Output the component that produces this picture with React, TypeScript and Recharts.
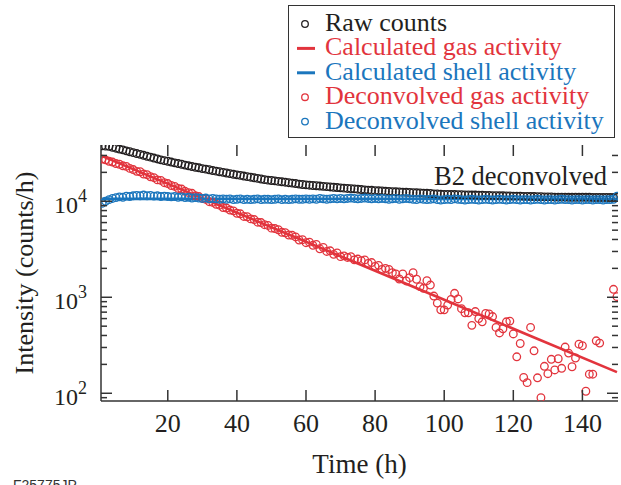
import { ComposedChart, Line, Scatter, XAxis, YAxis, Legend } from 'recharts';

const hours = [
  1, 2, 3, 4, 5, 6, 7, 8, 9, 10, 11, 12, 13, 14, 15, 16, 17, 18, 19, 20,
  21, 22, 23, 24, 25, 26, 27, 28, 29, 30, 31, 32, 33, 34, 35, 36, 37, 38, 39, 40,
  41, 42, 43, 44, 45, 46, 47, 48, 49, 50, 51, 52, 53, 54, 55, 56, 57, 58, 59, 60,
  61, 62, 63, 64, 65, 66, 67, 68, 69, 70, 71, 72, 73, 74, 75, 76, 77, 78, 79, 80,
  81, 82, 83, 84, 85, 86, 87, 88, 89, 90, 91, 92, 93, 94, 95, 96, 97, 98, 99, 100,
  101, 102, 103, 104, 105, 106, 107, 108, 109, 110, 111, 112, 113, 114, 115, 116, 117, 118, 119, 120,
  121, 122, 123, 124, 125, 126, 127, 128, 129, 130, 131, 132, 133, 134, 135, 136, 137, 138, 139, 140,
  141, 142, 143, 144, 145, 146, 147, 148, 149, 150,
];

const rawCounts = [
  37800, 37500, 37300, 36500, 35700, 35000, 34300, 33500, 32800, 32100,
  31400, 30800, 30100, 29400, 28800, 28200, 27600, 27000, 26500, 26100,
  25600, 25100, 24700, 24300, 23800, 23400, 23000, 22600, 22300, 21900,
  21600, 21300, 20900, 20600, 20300, 20000, 19700, 19400, 19100, 18850,
  18600, 18300, 18050, 17800, 17550, 17300, 17050, 16800, 16600, 16450,
  16300, 16100, 15950, 15800, 15600, 15450, 15300, 15100, 14950, 14800,
  14700, 14600, 14500, 14400, 14300, 14200, 14100, 14000, 13900, 13800,
  13700, 13600, 13550, 13450, 13350, 13250, 13150, 13050, 13000, 12900,
  12850, 12800, 12700, 12650, 12600, 12550, 12500, 12450, 12400, 12350,
  12300, 12250, 12200, 12150, 12100, 12050, 11950, 11900, 11850, 11800,
  11800, 11750, 11750, 11700, 11700, 11650, 11650, 11600, 11600, 11550,
  11550, 11500, 11500, 11450, 11450, 11400, 11400, 11350, 11350, 11300,
  11300, 11300, 11250, 11250, 11200, 11200, 11150, 11150, 11100, 11100,
  11100, 11050, 11050, 11050, 11050, 11000, 11000, 11000, 11000, 11000,
  11000, 11000, 10950, 10950, 10950, 10950, 10950, 10950, 10950, 10950,
];

// null = point below the visible range
const gasDeconvolved = [
  27500, 27000, 26100, 25600, 24700, 24300, 23400, 23100, 22000, 21400,
  20500, 20300, 19200, 18900, 18000, 17600, 16700, 16500, 15600, 15300,
  14600, 14300, 13600, 13400, 12700, 12300, 12100, 11400, 11200, 10700,
  10500, 9900, 9750, 9300, 9100, 8600, 8500, 8100, 7950, 7500,
  7400, 6950, 6900, 6550, 6450, 6050, 6000, 5700, 5600, 5250,
  5200, 5050, 4750, 4700, 4450, 4420, 4250, 3950, 3980, 3700,
  3750, 3480, 3550, 3200, 3300, 3000, 3050, 2800, 2900, 2650,
  2700, 2600, 2650, 2450, 2500, 2400, 2450, 2250, 2300, 2100,
  2150, 1950, 2000, 1950, 1800, 1750, 1550, 1750, 1480, 1600,
  1800, 1540, 1290, 1240, 1490, 1340, 1030, 870, 740, 740,
  830, 950, 1100, 960, 760, 690, 690, 510, 710, 600,
  555, 680, 670, 630, 485, 425, 470, 555, 565, 415,
  240, 330, 146, 129, 485, 277, 145, 90, 191, 160,
  226, 175, 229, 182, 303, 262, 189, 233, 325, 313,
  105, 158, 158, 352, 333, null, null, null, 1210, 1015,
];

const shellDeconvolved = [
  9500, 10000, 10400, 10700, 10900, 11100, 11000, 11300, 11200, 11400,
  11500, 11400, 11600, 11400, 11500, 11300, 11400, 11200, 11300, 11200,
  11100, 11200, 11000, 11100, 10900, 11000, 10800, 10900, 10800, 10700,
  10800, 10600, 10700, 10600, 10500, 10600, 10500, 10600, 10400, 10500,
  10600, 10400, 10500, 10400, 10500, 10600, 10400, 10500, 10500, 10400,
  10500, 10600, 10400, 10500, 10400, 10500, 10600, 10500, 10500, 10600,
  10500, 10600, 10500, 10700, 10600, 10500, 10600, 10700, 10600, 10700,
  10600, 10700, 10800, 10700, 10600, 10700, 10800, 10700, 10600, 10700,
  10600, 10700, 10600, 10500, 10600, 10700, 10500, 10600, 10700, 10600,
  10500, 10400, 10600, 10500, 10400, 10500, 10600, 10400, 10300, 10400,
  10500, 10400, 10600, 10500, 10400, 10300, 10400, 10500, 10400, 10300,
  10400, 10500, 10400, 10300, 10400, 10500, 10400, 10300, 10400, 10500,
  10400, 10300, 10400, 10400, 10300, 10400, 10500, 10400, 10300, 10400,
  10400, 10300, 10400, 10500, 10400, 10400, 10300, 10400, 10400, 10300,
  10400, 10400, 10300, 10400, 10400, 10300, 10400, 10400, 10500, 11300,
];

const fitHours = [1, 25, 50, 75, 100, 125, 150];
const gasCalculated = [29500, 12800, 5370, 2250, 942, 395, 166];
const shellCalculated = [10600, 10600, 10600, 10600, 10600, 10600, 10600];

const xTicks = [20, 40, 60, 80, 100, 120, 140];
const yMajorTicks = [100, 1000, 10000];
const yTicks = [
  90, 100, 200, 300, 400, 500, 600, 700, 800, 900,
  1000, 2000, 3000, 4000, 5000, 6000, 7000, 8000, 9000,
  10000, 20000, 30000,
];

const BLACK = '#231f20';
const RED = '#e2343d';
const BLUE = '#1b76bd';
const AXIS = '#333333';
const SERIF = '"Liberation Serif", "Times New Roman", serif';

const W = 621;
const H = 485;
const MARGIN = { top: 145, right: 3, bottom: 0, left: 0 };
const Y_AXIS_W = 101;
const X_AXIS_H = 84;
const PLOT_LEFT = MARGIN.left + Y_AXIS_W;
const PLOT_RIGHT = W - MARGIN.right;
const PLOT_TOP = MARGIN.top;
const PLOT_BOTTOM = H - MARGIN.bottom - X_AXIS_H;

const rawData = hours.map((t, i) => ({ t, v: rawCounts[i] }));
const gasData = hours.map((t, i) => ({ t, v: gasDeconvolved[i] })).filter((d) => d.v != null);
const shellData = hours.map((t, i) => ({ t, v: shellDeconvolved[i] }));
const fitData = fitHours.map((t, i) => ({ t, gas: gasCalculated[i], shell: shellCalculated[i] }));

const legendItems = [
  { label: 'Raw counts', color: BLACK, kind: 'circle' },
  { label: 'Calculated gas activity', color: RED, kind: 'line' },
  { label: 'Calculated shell activity', color: BLUE, kind: 'line' },
  { label: 'Deconvolved gas activity', color: RED, kind: 'circle' },
  { label: 'Deconvolved shell activity', color: BLUE, kind: 'circle' },
];

const ring = (color: string) => (props: any) => (
  <circle cx={props.cx} cy={props.cy} r={3.8} fill="none" stroke={color} strokeWidth={1.3} />
);

function TimeTick({ x, payload }: any) {
  return (
    <g>
      <line x1={x} x2={x} y1={PLOT_BOTTOM} y2={PLOT_BOTTOM - 11} stroke={AXIS} strokeWidth={1.5} />
      <line x1={x} x2={x} y1={PLOT_TOP} y2={PLOT_TOP + 11} stroke={AXIS} strokeWidth={1.5} />
      <text x={x} y={PLOT_BOTTOM + 31} textAnchor="middle" fontFamily={SERIF} fontSize={26} fill={BLACK}>
        {payload.value}
      </text>
    </g>
  );
}

function IntensityTick({ y, payload }: any) {
  const major = yMajorTicks.includes(payload.value);
  const len = major ? 11 : 6;
  return (
    <g>
      <line x1={PLOT_LEFT} x2={PLOT_LEFT + len} y1={y} y2={y} stroke={AXIS} strokeWidth={1.5} />
      <line x1={PLOT_RIGHT} x2={PLOT_RIGHT - len} y1={y} y2={y} stroke={AXIS} strokeWidth={1.5} />
      {major && (
        <text x={PLOT_LEFT - 14} y={y + 12} textAnchor="end" fontFamily={SERIF} fill={BLACK}>
          <tspan fontSize={24}>10</tspan>
          <tspan fontSize={18} dy={-11}>{Math.round(Math.log10(payload.value))}</tspan>
        </text>
      )}
    </g>
  );
}

function LegendBox() {
  return (
    <svg width={327} height={133} style={{ display: 'block' }}>
      <rect x={0.5} y={0.5} width={326} height={132} fill="#fff" stroke={AXIS} strokeWidth={1} />
      {legendItems.map((item, i) => {
        const base = 26 + 24.4 * i;
        const cy = base - 7;
        return (
          <g key={item.label}>
            {item.kind === 'circle' ? (
              <circle cx={17} cy={cy} r={3.3} fill="none" stroke={item.color} strokeWidth={1.3} />
            ) : (
              <line x1={9} x2={27} y1={cy} y2={cy} stroke={item.color} strokeWidth={3} />
            )}
            <text x={37} y={base} fontFamily={SERIF} fontSize={26} fill={item.color}>
              {item.label}
            </text>
          </g>
        );
      })}
    </svg>
  );
}

export default function App() {
  return (
    <div style={{ position: 'absolute', left: 0, top: 0, width: W, height: H, background: '#fff', overflow: 'hidden' }}>
      <ComposedChart width={W} height={H} margin={MARGIN}>
        <XAxis
          dataKey="t"
          type="number"
          domain={[0.67, 150.3]}
          allowDataOverflow
          ticks={xTicks}
          interval={0}
          height={X_AXIS_H}
          tickLine={false}
          axisLine={{ stroke: AXIS, strokeWidth: 1.5 }}
          tick={<TimeTick />}
          label={{
            content: ({ viewBox }: any) => (
              <text
                x={viewBox.x + viewBox.width / 2}
                y={viewBox.y + 72}
                textAnchor="middle"
                fontFamily={SERIF}
                fontSize={27}
                fill={BLACK}
              >
                Time (h)
              </text>
            ),
          }}
        />
        <XAxis
          xAxisId="top"
          orientation="top"
          type="number"
          domain={[0.67, 150.3]}
          height={0}
          tick={false}
          tickLine={false}
          axisLine={{ stroke: AXIS, strokeWidth: 1.5 }}
        />
        <YAxis
          scale="log"
          type="number"
          domain={[83.1, 38550]}
          allowDataOverflow
          ticks={yTicks}
          interval={0}
          width={Y_AXIS_W}
          tickLine={false}
          axisLine={{ stroke: AXIS, strokeWidth: 1.5 }}
          tick={<IntensityTick />}
          label={{
            content: ({ viewBox }: any) => {
              const cx = viewBox.x + 33;
              const cy = viewBox.y + viewBox.height / 2;
              return (
                <text
                  x={cx}
                  y={cy}
                  transform={`rotate(-90, ${cx}, ${cy})`}
                  textAnchor="middle"
                  fontFamily={SERIF}
                  fontSize={26}
                  fill={BLACK}
                >
                  Intensity (counts/h)
                </text>
              );
            },
          }}
        />
        <YAxis
          yAxisId="right"
          orientation="right"
          type="number"
          domain={[0, 1]}
          width={0}
          tick={false}
          tickLine={false}
          axisLine={{ stroke: AXIS, strokeWidth: 1.5 }}
        />
        <Legend
          layout="vertical"
          align="center"
          verticalAlign="middle"
          content={() => <LegendBox />}
          wrapperStyle={{ position: 'absolute', left: 288, top: 5, width: 327, height: 133, margin: 0, padding: 0 }}
        />
        <Scatter name="Raw counts" data={rawData} dataKey="v" shape={ring(BLACK)} isAnimationActive={false} />
        <Line
          name="Calculated gas activity"
          data={fitData}
          dataKey="gas"
          stroke={RED}
          strokeWidth={2.6}
          dot={false}
          isAnimationActive={false}
        />
        <Line
          name="Calculated shell activity"
          data={fitData}
          dataKey="shell"
          stroke={BLUE}
          strokeWidth={2.6}
          dot={false}
          isAnimationActive={false}
        />
        <Scatter name="Deconvolved gas activity" data={gasData} dataKey="v" shape={ring(RED)} isAnimationActive={false} />
        <Scatter name="Deconvolved shell activity" data={shellData} dataKey="v" shape={ring(BLUE)} isAnimationActive={false} />
      </ComposedChart>
      <svg width={W} height={H} style={{ position: 'absolute', left: 0, top: 0, pointerEvents: 'none' }}>
        <text x={607} y={185} textAnchor="end" fontFamily={SERIF} fontSize={26.5} fill={BLACK}>
          B2 deconvolved
        </text>
        <text x={13} y={490} fontFamily='"Liberation Sans", Arial, sans-serif' fontSize={14} fill={AXIS}>
          F25775JP
        </text>
      </svg>
    </div>
  );
}
